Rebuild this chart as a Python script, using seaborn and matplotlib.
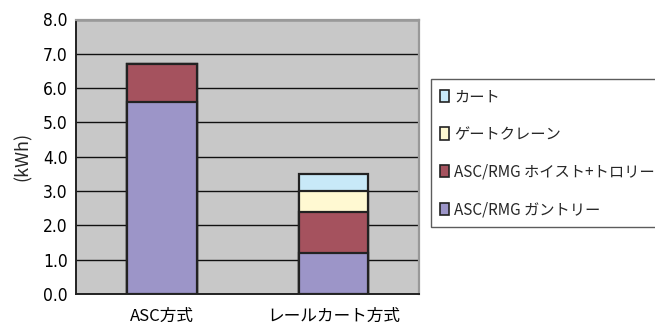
import matplotlib
matplotlib.use("Agg")
import matplotlib.pyplot as plt
from matplotlib.patches import Patch
import numpy as np
import pandas as pd
import seaborn as sns

# Energy consumption per move, by system and component
systems = ["ASC方式", "レールカート方式"]
components = ["ASC/RMG ガントリー", "ASC/RMG ホイスト+トロリー", "ゲートクレーン", "カート"]
gantry = [5.6, 1.2]
hoist_trolley = [1.1, 1.2]
gate_crane = [0.0, 0.6]
cart = [0.0, 0.5]
y_ticks = [0.0, 1.0, 2.0, 3.0, 4.0, 5.0, 6.0, 7.0, 8.0]

colors = ["#9C95C8", "#A5525E", "#FFF9D2", "#C8E9F8"]

sns.set_theme(style="white")
plt.rcParams["font.family"] = ["Noto Sans CJK JP", "DejaVu Sans"]

fig = plt.figure(figsize=(6.55, 3.25), dpi=100)
ax = fig.add_axes([0.116, 0.095, 0.524, 0.845])
ax.set_facecolor("#C8C8C8")

layers = [gantry, hoist_trolley, gate_crane, cart]
cum = np.cumsum(np.array(layers), axis=0)

# Stack by drawing cumulative totals from the top layer down
for i in range(len(layers) - 1, -1, -1):
    df = pd.DataFrame({"system": systems, "value": cum[i]})
    sns.barplot(data=df, x="system", y="value", ax=ax, color=colors[i],
                width=0.405, edgecolor="#222222", linewidth=1.6,
                saturation=1, zorder=3)

ax.set_ylim(0, 8)
ax.set_xlim(-0.5, 1.5)
ax.set_yticks(y_ticks)
ax.set_yticklabels([f"{v:.1f}" for v in y_ticks], family="DejaVu Sans",
                   fontstretch="condensed", fontsize=12.5)
ax.yaxis.grid(True, color="#111111", linewidth=1.0, zorder=1)
ax.set_axisbelow(True)
ax.tick_params(axis="y", length=0, pad=6, colors="black")
ax.tick_params(axis="x", which="major", length=0, pad=10, labelsize=12, colors="black")
ax.set_xticks([-0.5, 0.5, 1.5], minor=True)
ax.tick_params(axis="x", which="minor", direction="in", length=4, width=1, color="#222222")
ax.set_xlabel("")
ax.set_ylabel("(kWh)", fontsize=13, labelpad=8)

for side in ["left", "bottom"]:
    ax.spines[side].set_color("#222222")
    ax.spines[side].set_linewidth(1.4)
for side in ["top", "right"]:
    ax.spines[side].set_visible(True)
    ax.spines[side].set_color("#999999")
    ax.spines[side].set_linewidth(1.6)

handles = [Patch(facecolor=colors[i], edgecolor="#222222", linewidth=1.2,
                 label=components[i]) for i in range(len(components) - 1, -1, -1)]
leg = fig.legend(handles=handles, loc="upper left",
                 bbox_to_anchor=(0.658, 0.757), frameon=True, fancybox=False,
                 fontsize=11, handlelength=0.6, handleheight=0.85,
                 handletextpad=0.3, labelspacing=1.35, borderpad=0.6,
                 borderaxespad=0)
leg.get_frame().set_edgecolor("#333333")
leg.get_frame().set_linewidth(1.0)

fig.savefig("out.png", dpi=100)
